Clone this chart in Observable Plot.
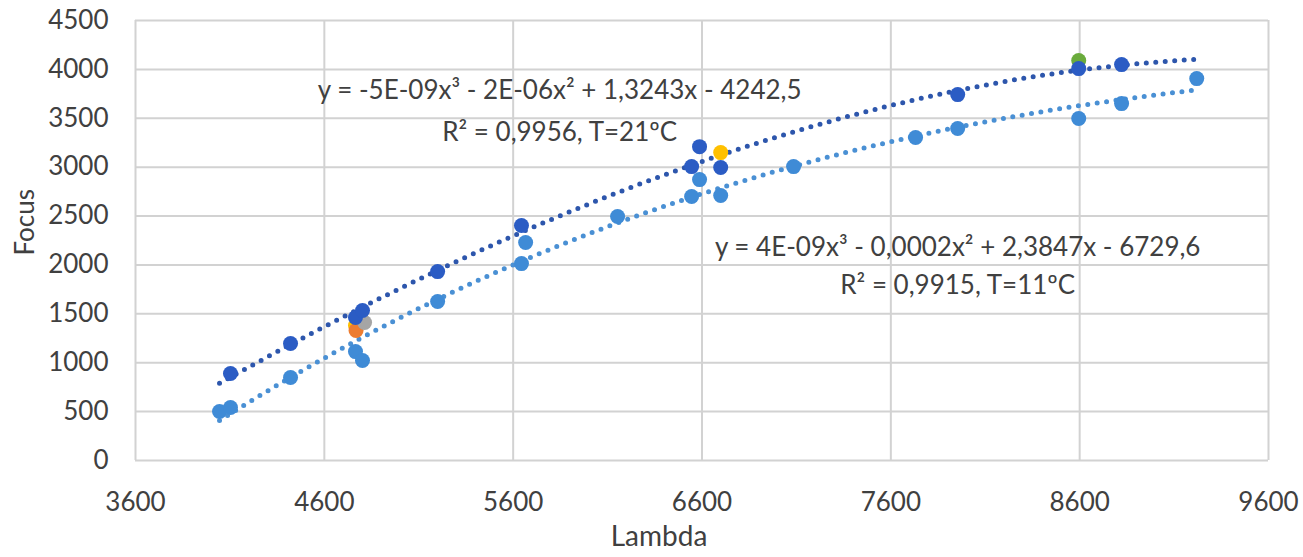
<!DOCTYPE html>
<html><head><meta charset="utf-8">
<script src="https://cdn.jsdelivr.net/npm/d3@7"></script>
<script src="https://cdn.jsdelivr.net/npm/@observablehq/plot@0.6"></script>
<style>body{margin:0;background:#fff}</style>
</head><body><div id="chart"></div>
<script>
// T = 21 ºC series
const warmLambda = [4103, 4421, 4765, 4802, 5200, 5644, 6545, 6587, 6699, 7954, 8595, 8822];
const warmFocus  = [ 890, 1196, 1462, 1534, 1932, 2403, 3006, 3210, 2996, 3742, 4008, 4049];
// T = 11 ºC series
const coldLambda = [4045, 4103, 4421, 4765, 4802, 5200, 5644, 5666, 6153, 6545, 6587, 6699, 7085, 7731, 7954, 8595, 8822, 9220];
const coldFocus  = [ 501,  542,  849, 1114, 1022, 1626, 2014, 2229, 2495, 2700, 2873, 2710, 3006, 3303, 3395, 3497, 3650, 3906];
// extra single measurements
const extraLambda = [4765, 4768, 4813, 6699, 8595];
const extraFocus  = [1380, 1329, 1411, 3149, 4090];
const extraColor  = ["#FFC000", "#ED7D31", "#A5A5A5", "#FFC000", "#6AAB3C"];
// trendline labels
const eqText = [
  "y = -5E-09x³ - 2E-06x² + 1,3243x - 4242,5",
  "R² = 0,9956, T=21ºC",
  "y = 4E-09x³ - 0,0002x² + 2,3847x - 6729,6",
  "R² = 0,9915, T=11ºC"
];
const eqLambda = [5846, 5846, 7954, 7954];
const eqFocus  = [3783, 3354, 2178, 1789];
const xTicks = [3600, 4600, 5600, 6600, 7600, 8600, 9600];
const yTicks = [0, 500, 1000, 1500, 2000, 2500, 3000, 3500, 4000, 4500];

const DARK = "#2B5CC4", LIGHT = "#3F8BD6";
const DARK_T = "#2D56AC", LIGHT_T = "#4A90D4";

// least squares cubic fit (like a spreadsheet trendline)
function cubicFit(xs, ys) {
  const m = d3.mean(xs), s = 1000;
  const n = 4, A = Array.from({length: n}, () => new Array(n + 1).fill(0));
  xs.forEach((x, k) => {
    const t = (x - m) / s, p = [1, t, t * t, t * t * t];
    for (let i = 0; i < n; i++) { for (let j = 0; j < n; j++) A[i][j] += p[i] * p[j]; A[i][n] += p[i] * ys[k]; }
  });
  for (let i = 0; i < n; i++) {
    let piv = i; for (let r = i + 1; r < n; r++) if (Math.abs(A[r][i]) > Math.abs(A[piv][i])) piv = r;
    [A[i], A[piv]] = [A[piv], A[i]];
    for (let r = 0; r < n; r++) if (r !== i) { const f = A[r][i] / A[i][i]; for (let c = i; c <= n; c++) A[r][c] -= f * A[i][c]; }
  }
  const c = A.map((row, i) => row[n] / row[i]);
  return x => { const t = (x - m) / s; return c[0] + c[1] * t + c[2] * t * t + c[3] * t * t * t; };
}
const lo = d3.min(coldLambda), hi = d3.max(coldLambda);
const sampleX = d3.range(0, 201).map(i => lo + (hi - lo) * i / 200);
const fWarm = cubicFit(warmLambda, warmFocus), fCold = cubicFit(coldLambda, coldFocus);
const warmTrend = sampleX.map(x => ({x, y: fWarm(x)}));
const coldTrend = sampleX.map(x => ({x, y: fCold(x)}));

const warm = warmLambda.map((x, i) => ({x, y: warmFocus[i]}));
const cold = coldLambda.map((x, i) => ({x, y: coldFocus[i]}));
const extra = extraLambda.map((x, i) => ({x, y: extraFocus[i], c: extraColor[i]}));
const labels = eqText.map((t, i) => ({t, x: eqLambda[i], y: eqFocus[i]}));

const font = "Lato, 'Open Sans', sans-serif";
const chart = Plot.plot({
  width: 1303, height: 557,
  marginLeft: 135, marginRight: 35, marginTop: 20, marginBottom: 97,
  style: {fontFamily: font, background: "#fff"},
  x: {domain: [3600, 9600], ticks: xTicks},
  y: {domain: [0, 4500], ticks: yTicks},
  marks: [
    Plot.gridX(xTicks, {stroke: "#d2d2d2", strokeOpacity: 1, strokeWidth: 2}),
    Plot.gridY(yTicks, {stroke: "#d2d2d2", strokeOpacity: 1, strokeWidth: 2}),
    Plot.axisX({ticks: xTicks, tickSize: 0, tickPadding: 32, fontSize: 26, fill: "#404040", label: null, tickFormat: d => String(d)}),
    Plot.axisY({ticks: yTicks, tickSize: 0, tickPadding: 27, fontSize: 26, fill: "#404040", label: null, tickFormat: d => String(d)}),
    Plot.text(["Lambda"], {frameAnchor: "bottom", dx: -43, dy: 85, fontSize: 28, fill: "#404040"}),
    Plot.text(["Focus"], {frameAnchor: "left", dx: -110, dy: 15, rotate: -90, fontSize: 26, fill: "#404040"}),
    Plot.line(coldTrend, {x: "x", y: "y", stroke: LIGHT_T, strokeWidth: 5, strokeDasharray: "0 9.5", strokeLinecap: "round"}),
    Plot.line(warmTrend, {x: "x", y: "y", stroke: DARK_T, strokeWidth: 5, strokeDasharray: "0 9.5", strokeLinecap: "round"}),
    Plot.dot(cold, {x: "x", y: "y", r: 7.5, fill: LIGHT}),
    Plot.dot(extra, {x: "x", y: "y", r: 7.5, fill: "c"}),
    Plot.dot(warm, {x: "x", y: "y", r: 7.5, fill: DARK}),
    Plot.text(labels, {x: "x", y: "y", text: "t", fontSize: 26, fill: "#404040"})
  ]
});
document.getElementById("chart").append(chart);
</script></body></html>
